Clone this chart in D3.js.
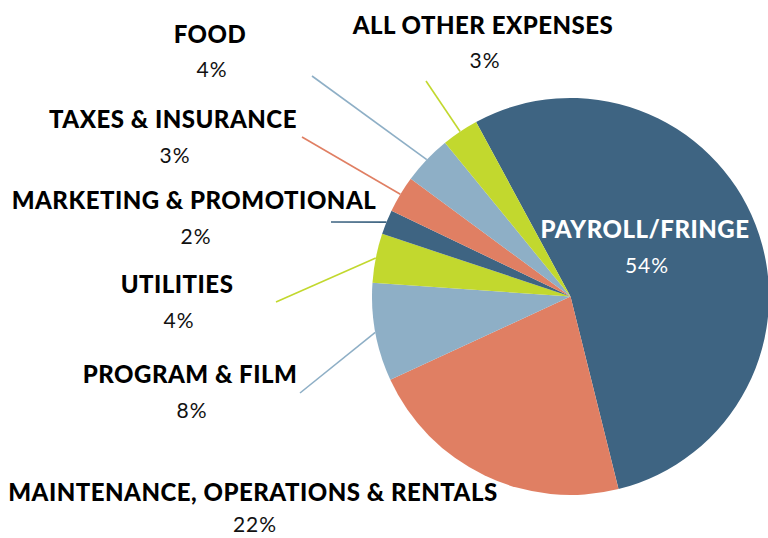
<!DOCTYPE html>
<html>
<head>
<meta charset="utf-8">
<script src="https://cdn.jsdelivr.net/npm/d3@7"></script>
<style>
  body { margin: 0; background: #fff; }
  .name { font-family: Lato, sans-serif; font-weight: 900; fill: #000; }
  .pct { font-family: Lato, sans-serif; font-weight: 400; fill: #111; }
</style>
</head>
<body>
<script>
const categories = ["PAYROLL/FRINGE", "MAINTENANCE, OPERATIONS & RENTALS", "PROGRAM & FILM",
  "UTILITIES", "MARKETING & PROMOTIONAL", "TAXES & INSURANCE", "FOOD", "ALL OTHER EXPENSES"];
const values = [54, 22, 8, 4, 2, 3, 4, 3];
const pctLabels = ["54%", "22%", "8%", "4%", "2%", "3%", "4%", "3%"];

const colors = ["#3e6482", "#e07f63", "#8eafc6", "#c2d82e", "#3e6482", "#e07f63", "#8eafc6", "#c2d82e"];

// label placement (x centre, name baseline, pct baseline, leader end)
const labelPos = [
  {x: 645, y: 238, py: 273, lx: null, ly: null, white: true},
  {x: 253, y: 501, py: 532, lx: null, ly: null},
  {x: 190, y: 383, py: 418, lx: 300, ly: 393},
  {x: 177, y: 293, py: 328, lx: 276, ly: 302},
  {x: 194, y: 209, py: 244, lx: 331, ly: 222},
  {x: 173, y: 128, py: 163, lx: 302, ly: 137},
  {x: 210, y: 43, py: 77, lx: 312, ly: 76},
  {x: 483, y: 34, py: 68, lx: 426, ly: 81}
];

const width = 768, height = 538;
const cx = 570.5, cy = 296.5, radius = 198.5;

const svg = d3.select("body")
  .append("svg")
  .attr("width", width)
  .attr("height", height);

const data = categories.map((c, i) => ({name: c, value: values[i], pct: pctLabels[i], i: i}));

const start = -28.4 * Math.PI / 180;
const pie = d3.pie()
  .sort(null)
  .value(d => d.value)
  .startAngle(start)
  .endAngle(start + 2 * Math.PI);

const arcs = pie(data);
const arc = d3.arc().innerRadius(0).outerRadius(radius);

const g = svg.append("g").attr("transform", `translate(${cx},${cy})`);

g.selectAll("path")
  .data(arcs)
  .enter()
  .append("path")
  .attr("d", arc)
  .style("fill", d => colors[d.data.i]);

// leader lines from slice edge to label
svg.selectAll("line.leader")
  .data(arcs.filter(d => labelPos[d.data.i].lx !== null))
  .enter()
  .append("line")
  .attr("class", "leader")
  .attr("x1", d => labelPos[d.data.i].lx)
  .attr("y1", d => labelPos[d.data.i].ly)
  .attr("x2", d => {
    const a = (d.startAngle + d.endAngle) / 2;
    return cx + radius * Math.sin(a);
  })
  .attr("y2", d => {
    const a = (d.startAngle + d.endAngle) / 2;
    return cy - radius * Math.cos(a);
  })
  .style("stroke", d => colors[d.data.i])
  .style("stroke-width", 1.6);

const labels = svg.selectAll("g.label")
  .data(data)
  .enter()
  .append("g")
  .attr("class", "label");

labels.append("text")
  .attr("class", "name")
  .attr("text-anchor", "middle")
  .attr("x", d => labelPos[d.i].x)
  .attr("y", d => labelPos[d.i].y)
  .style("font-size", "24px")
  .style("letter-spacing", "0.5px")
  .style("fill", d => labelPos[d.i].white ? "#fff" : "#000")
  .text(d => d.name);

labels.append("text")
  .attr("class", "pct")
  .attr("text-anchor", "middle")
  .attr("x", d => labelPos[d.i].x + 2)
  .attr("y", d => labelPos[d.i].py)
  .style("font-size", "21px")
  .style("letter-spacing", "1px")
  .style("fill", d => labelPos[d.i].white ? "#fff" : "#111")
  .text(d => d.pct);
</script>
</body>
</html>
